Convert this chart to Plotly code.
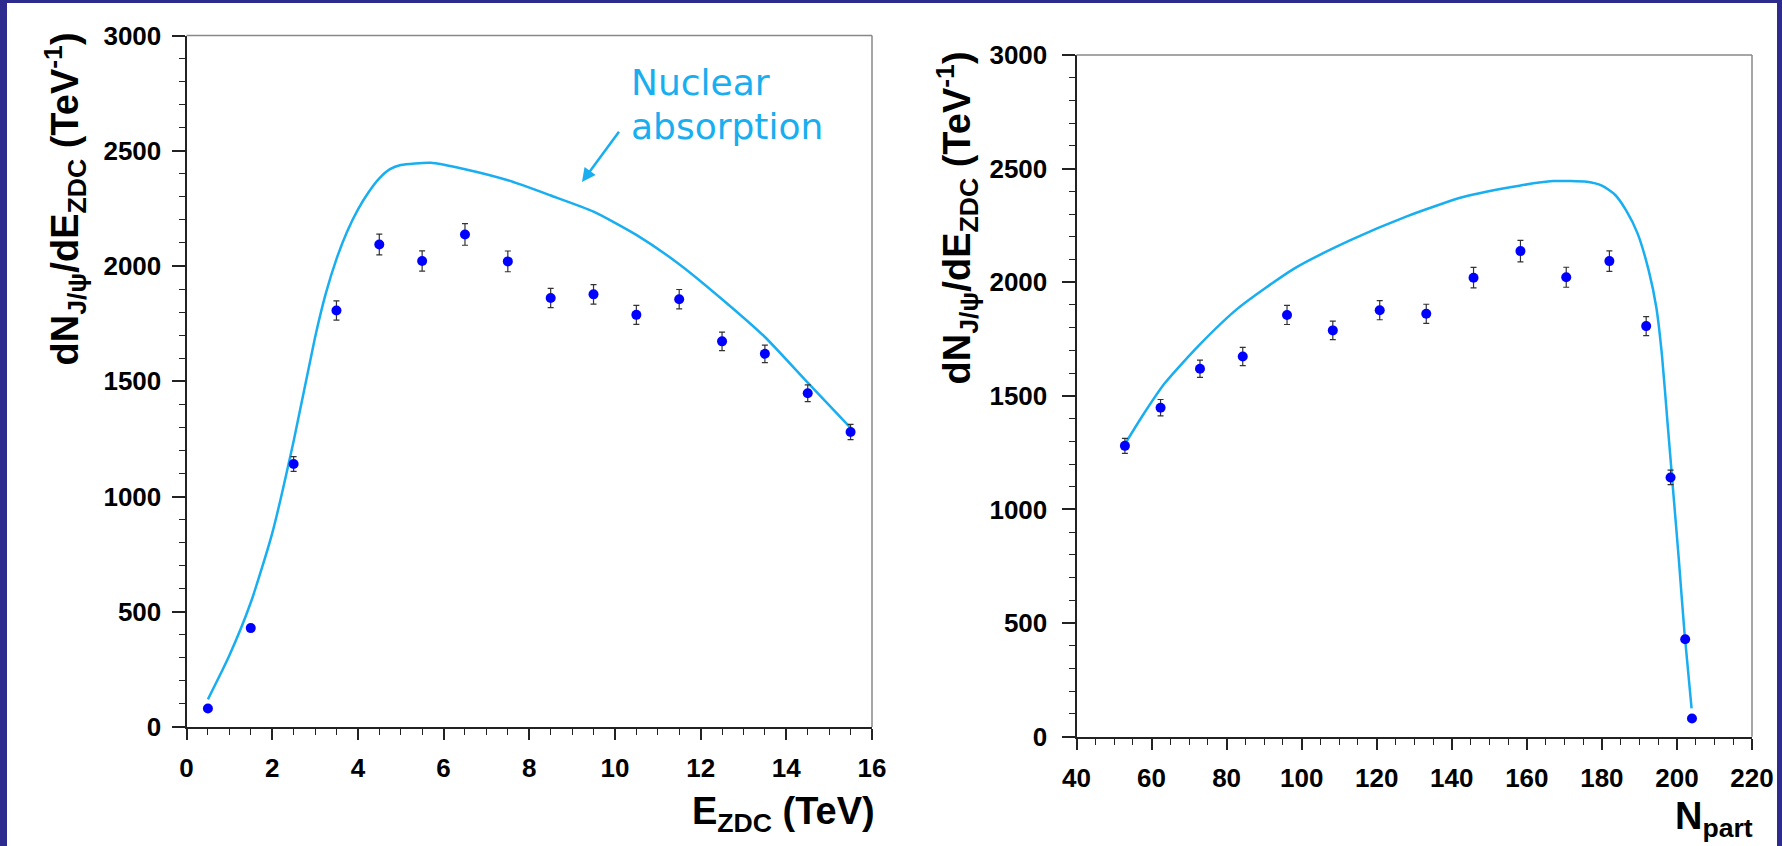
import plotly.graph_objects as go

W, H = 1782, 846

# J/psi yield per ZDC energy bin
e_zdc = [0.5, 1.5, 2.5, 3.5, 4.5, 5.5, 6.5, 7.5, 8.5, 9.5, 10.5, 11.5, 12.5, 13.5, 14.5, 15.5]
yields = [80, 429, 1141, 1807, 2093, 2022, 2137, 2020, 1861, 1877, 1788, 1856, 1673, 1619, 1448, 1280]
errors = [8, 14, 32, 42, 45, 44, 47, 45, 42, 42, 41, 42, 40, 38, 36, 33]
# mean number of participants for each ZDC bin
n_part = [204.0, 202.2, 198.3, 191.8, 182.0, 170.5, 158.3, 145.8, 133.2, 120.8,
          108.3, 96.1, 84.3, 72.9, 62.4, 52.9]

# nuclear absorption expectation vs E_ZDC
abs_e = [0.5, 1.0, 1.5, 2.0, 2.5, 3.0, 3.25, 3.5, 3.75, 4.0, 4.25, 4.5, 4.75, 5.0, 5.7,
         6.5, 7.5, 8.5, 9.5, 10.5, 11.5, 12.5, 13.5, 14.5, 15.5]
abs_e_val = [120, 310, 540, 840, 1240, 1690, 1880, 2030, 2150, 2245, 2320, 2380, 2420, 2438, 2448,
             2420, 2372, 2306, 2236, 2135, 2008, 1856, 1692, 1494, 1298]

# nuclear absorption expectation vs N_part
abs_np = [53, 57.5, 63.5, 72.5, 83, 98, 113, 128, 143, 158, 167, 176, 180, 183.5,
          186.5, 189.5, 192.5, 194.5, 196.0, 197.5, 199.0, 200.5, 202.0, 203.9]
abs_np_val = [1290, 1410, 1555, 1720, 1885, 2060, 2185, 2290, 2375, 2425, 2445, 2442,
              2425, 2385, 2315, 2215, 2050, 1890, 1680, 1380, 1080, 780, 460, 125]

BG = "#2d2c8e"
CURVE = "#19aef0"
MARK = "#0000ff"
TICKFONT = dict(family="Liberation Sans", size=26, color="black", weight="bold")


def px_x(p):
    return p / W


def px_y(p):
    return 1 - p / H


fig = go.Figure()

err_style = dict(type="data", visible=True, color="#333333", thickness=1.2, width=3)

fig.add_trace(go.Scatter(x=abs_e, y=abs_e_val, mode="lines",
                         line=dict(color=CURVE, width=2.5, shape="spline", smoothing=0.6),
                         xaxis="x", yaxis="y", showlegend=False, hoverinfo="skip"))
fig.add_trace(go.Scatter(x=e_zdc, y=yields, mode="markers",
                         error_y=dict(array=errors, **err_style),
                         marker=dict(color=MARK, size=10, line=dict(width=0)),
                         xaxis="x", yaxis="y", showlegend=False))

fig.add_trace(go.Scatter(x=abs_np, y=abs_np_val, mode="lines",
                         line=dict(color=CURVE, width=2.5, shape="spline", smoothing=0.6),
                         xaxis="x2", yaxis="y2", showlegend=False, hoverinfo="skip"))
fig.add_trace(go.Scatter(x=n_part, y=yields, mode="markers",
                         error_y=dict(array=errors, **err_style),
                         marker=dict(color=MARK, size=10, line=dict(width=0)),
                         xaxis="x2", yaxis="y2", showlegend=False))


def axis(rng, dtick, minor_dtick, domain, anchor, ticklen):
    return dict(
        range=rng, domain=domain, anchor=anchor, dtick=dtick, tick0=rng[0],
        showgrid=False, zeroline=False, showline=True, linecolor="#222222", linewidth=2,
        ticks="outside", ticklen=ticklen, tickwidth=1.5, tickcolor="#222222",
        minor=dict(dtick=minor_dtick, ticks="outside", ticklen=6, tickwidth=1.2,
                   tickcolor="#222222", showgrid=False),
        tickfont=TICKFONT, fixedrange=True, automargin=False,
    )


L_x = [px_x(186.5), px_x(872)]
L_y = [px_y(727), px_y(35.5)]
R_x = [px_x(1076.5), px_x(1752)]
R_y = [px_y(736.7), px_y(55)]

xa = axis([0, 16], 2, 0.5, L_x, "y", 11)
ya = axis([0, 3000], 500, 100, L_y, "x", 13)
xa2 = axis([40, 220], 20, 5, R_x, "y2", 11)
ya2 = axis([0, 3000], 500, 100, R_y, "x2", 13)
xa["ticklabelstandoff"] = 6
xa2["ticklabelstandoff"] = 6
ya["ticklabelstandoff"] = 5
ya2["ticklabelstandoff"] = 9

shapes = [
    dict(type="rect", xref="paper", yref="paper", x0=px_x(7), x1=px_x(1777), y0=0, y1=px_y(3),
         fillcolor="white", line=dict(width=0), layer="below"),
]
# upper and right frame edges of each panel
for xr, yr in (("x", "y"), ("x2", "y2")):
    shapes.append(dict(type="line", xref=f"{xr} domain", yref=f"{yr} domain", x0=0, x1=1, y0=1, y1=1,
                       line=dict(color="#888888", width=1.5)))
    shapes.append(dict(type="line", xref=f"{xr} domain", yref=f"{yr} domain", x0=1, x1=1, y0=0, y1=1,
                       line=dict(color="#888888", width=1.5)))

title_font = dict(family="Liberation Sans", size=38, color="black", weight="bold")
ytitle = "dN<sub>J/ψ</sub>/dE<sub>ZDC</sub> (TeV<sup>-1</sup>)"

annotations = [
    dict(text=ytitle, xref="paper", yref="paper", x=px_x(65), y=px_y(31), xanchor="center", yanchor="top",
         textangle=-90, showarrow=False, font=title_font),
    dict(text=ytitle, xref="paper", yref="paper", x=px_x(958), y=px_y(50), xanchor="center", yanchor="top",
         textangle=-90, showarrow=False, font=title_font),
    dict(text="E<sub>ZDC</sub> (TeV)", xref="paper", yref="paper", x=px_x(877), y=px_y(814),
         xanchor="right", yanchor="middle", showarrow=False, font=title_font),
    dict(text="N<sub>part</sub>", xref="paper", yref="paper", x=px_x(1755), y=px_y(819),
         xanchor="right", yanchor="middle", showarrow=False, font=title_font),
    dict(text="Nuclear", xref="paper", yref="paper", x=px_x(629), y=px_y(83),
         xanchor="left", yanchor="middle", showarrow=False,
         font=dict(family="DejaVu Sans", size=36, color=CURVE)),
    dict(text="absorption", xref="paper", yref="paper", x=px_x(629), y=px_y(127),
         xanchor="left", yanchor="middle", showarrow=False,
         font=dict(family="DejaVu Sans", size=36, color=CURVE)),
    dict(text="", xref="x", yref="y", x=9.23, y=2364, axref="x", ayref="y", ax=10.12, ay=2589,
         showarrow=True, arrowhead=2, arrowsize=1.1, arrowwidth=2.5, arrowcolor=CURVE, standoff=0),
]

fig.update_layout(
    width=W, height=H, autosize=False,
    margin=dict(l=0, r=0, t=0, b=0, pad=0, autoexpand=False),
    paper_bgcolor=BG, plot_bgcolor="white",
    xaxis=xa, yaxis=ya, xaxis2=xa2, yaxis2=ya2,
    shapes=shapes, annotations=annotations,
    showlegend=False,
)

fig.write_html("out.html", config={"displayModeBar": False})
